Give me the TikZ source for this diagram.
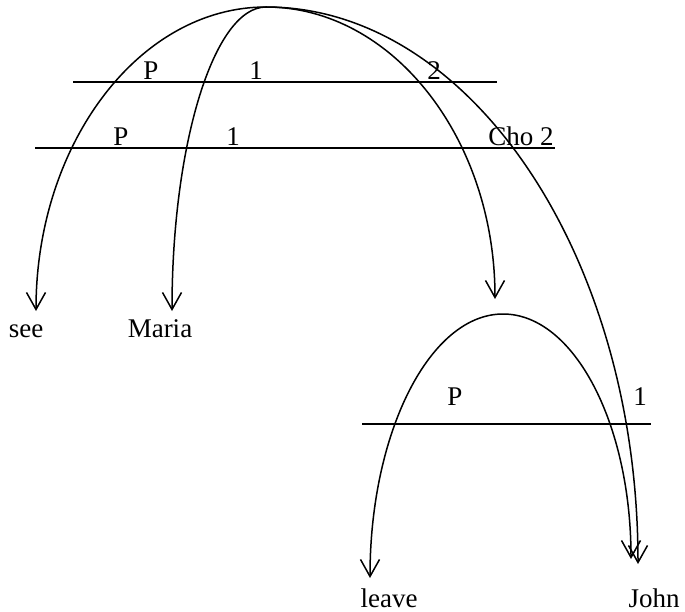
\documentclass[tikz,border=0pt]{standalone}
\usepackage{fontspec}
\setmainfont{Liberation Serif}
\usetikzlibrary{arrows.meta}
\tikzset{
  lbl/.style={anchor=base,inner sep=0pt,font=\fontsize{27}{32}\selectfont},
  bar/.style={line width=1.6pt},
  arc/.style={line width=1.5pt,-{Straight Barb[length=17pt,width=19pt,line width=1.5pt]}},
  arcboth/.style={line width=1.5pt,{Straight Barb[length=17pt,width=19pt,line width=1.5pt]}-{Straight Barb[length=17pt,width=19pt,line width=1.5pt]}}
}
\begin{document}
\begin{tikzpicture}[x=1pt,y=-1pt]
\useasboundingbox (0,0) rectangle (685,612);
% word nodes
\node[lbl] (see) at (26,337) {see};
\node[lbl] (maria) at (160,337) {Maria};
\node[lbl] (leave) at (389,607) {leave};
\node[lbl] (john) at (654,607) {John};
% key coordinates
\coordinate (apex) at (266,7);
\coordinate (apexb) at (503,314);
\coordinate (seetip) at (36,311);
\coordinate (mariatip) at (172,311);
\coordinate (midtip) at (495,299);
\coordinate (leavetip) at (370,578);
\coordinate (johntipa) at (631,559);
\coordinate (johntipb) at (638,564);
% horizontal bars
\coordinate (l1a) at (73,82);  \coordinate (l1b) at (497,82);
\coordinate (l2a) at (35,148); \coordinate (l2b) at (555,148);
\coordinate (l3a) at (362,424); \coordinate (l3b) at (651,424);
\draw[bar] (l1a) -- (l1b);
\draw[bar] (l2a) -- (l2b);
\draw[bar] (l3a) -- (l3b);
% bar labels
\node[lbl] (p1) at (151,80) {P};
\node[lbl] (o1) at (256,80) {1};
\node[lbl] (t1) at (434,80) {2};
\node[lbl] (p2) at (121,146) {P};
\node[lbl] (o2) at (233,146) {1};
\node[lbl] (c2) at (521,146) {Cho 2};
\node[lbl] (p3) at (455,405) {P};
\node[lbl] (o3) at (640,405) {1};
% big arcs
\draw[arc] (apex) .. controls +(-127,0) and +(0,-167) .. (seetip);
\draw[arc] (apex) .. controls +(-52,0) and +(0,-167) .. (mariatip);
\draw[arc] (apex) .. controls +(126,0) and +(0,-161) .. (midtip);
\draw[arc] (apex) .. controls +(205,0) and +(0,-307) .. (johntipb);
% small arc
\draw[arcboth] (leavetip) .. controls +(0,-146) and +(-73,0) .. (apexb)
  .. controls +(71,0) and +(0,-135) .. (johntipa);
\end{tikzpicture}
\end{document}
